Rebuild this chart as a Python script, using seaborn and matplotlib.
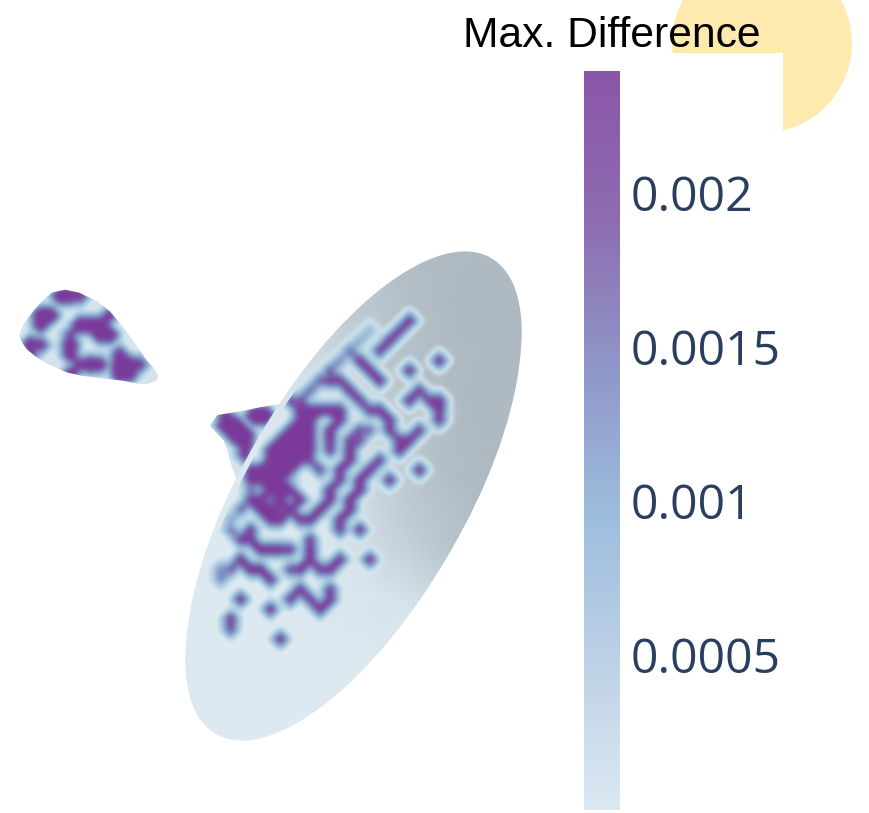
import numpy as np
import seaborn as sns
import matplotlib.pyplot as plt
from matplotlib.colors import ListedColormap
from matplotlib.patches import Circle, Ellipse, Polygon, Rectangle

scale_title = "Max. Difference"
scale_max = 0.0024
tick_values = [0.002, 0.0015, 0.001, 0.0005]
tick_labels = ["0.002", "0.0015", "0.001", "0.0005"]
scale_colors = ["#dbe8f2", "#bdd1e6", "#9dbcdd", "#8f96c8", "#8d6cb0", "#8a55a8"]
surface_colors = ["#e3eff6", "#c3dcea", "#9bbcd8", "#7b86bc", "#7a3a9a"]

# disk difference levels, 0-9 (rows top to bottom)
disk_levels = [
    "0000000000000000000000000",
    "0000000000000000000090000",
    "0000000000000000400800000",
    "0000000000000005009000000",
    "0000000000000050080000000",
    "0000000000000609000000090",
    "0000000000006000900090000",
    "0000000000069800090000000",
    "0000000000700090000008000",
    "0000000077000008000090890",
    "0000000009999900890000090",
    "0000000009900900009000080",
    "0000000099909008608008000",
    "0000000999909087000890000",
    "0000009999908090000900000",
    "0000009999700090080000000",
    "0000999990080900900009000",
    "0000999920000809009000000",
    "0000429990009009000000000",
    "0000995939009090000000000",
    "0005099790090090000000000",
    "0050009908900900000000000",
    "0050800000000809000000000",
    "0008900000800000000000000",
    "0000099980900000000000000",
    "0009000000900900900000000",
    "0660990079089000000000000",
    "0600009000000000000000000",
    "0000000009008000000000000",
    "0009000080809000000000000",
    "0000009000090000000000000",
    "0090000000000000000000000",
    "0070000000000000000000000",
    "0000000900000000000000000",
    "0000000000000000000000000",
]

# lighting of the disk, along the long axis (rows) and across it (columns)
disk_shade = [
    [0, 0, 0, 0, 0],
    [0, 0, 0, 0, 0],
    [0, 0, 0, 0, 0],
    [0, 0, 0, 1, 1],
    [0, 0, 2, 5, 7],
    [1, 3, 5, 8, 9],
    [4, 6, 8, 9, 9],
    [7, 8, 9, 9, 9],
    [9, 9, 9, 9, 9],
]

# teardrop outline and levels
drop_s = [6, 10, 14, 19, 30, 44, 65, 80, 100, 120, 133, 142, 150]
drop_upper = [-3, 14, 25, 36, 44, 47, 46, 42, 32, 20, 12, 8, 2]
drop_lower = [16, 20, 23, 26, 29, 31, 31, 28, 22, 16, 13, 10, 3]
drop_levels = [
    "000000000000000",
    "000099600000000",
    "000000000000000",
    "009900000600000",
    "007000999000000",
    "000004008900000",
    "096009000000000",
    "050007000070000",
    "000000697099600",
    "000008000098000",
    "000000000000000",
]

# flared throat behind the disk
flare_s = [0, 10, 20, 30, 42, 50, 60, 80]
flare_upper = [6, 16, 26, 37, 49, 55, 60, 60]
flare_lower = [7, 9, 11, 18, 28, 33, 40, 50]
flare_levels = [
    "000000000",
    "050099000",
    "089000000",
    "009900000",
    "000700000",
    "000600000",
    "000000000",
    "000000000",
]


def along_axis(start, end, s, upper, lower):
    # outline of a surface given its widths on each side of a straight axis
    start, end = np.array(start, float), np.array(end, float)
    u = (end - start) / np.linalg.norm(end - start)
    p = np.array([-u[1], u[0]])
    s = np.asarray(s, float)[:, None]
    top = start + s * u - np.asarray(upper, float)[:, None] * p
    low = start + s * u + np.asarray(lower, float)[:, None] * p
    return np.vstack([top, low[::-1]])


def ridge_field(table, xs, ys, x0, y0, step, reach=1.0, gain=1.0):
    # table nodes spread as soft diamonds, touching nodes merge into ridges
    levels = np.array([[int(ch) for ch in row] for row in table], dtype=float)
    px, py = np.meshgrid(xs, ys)
    field = np.zeros_like(px)
    nrow, ncol = levels.shape
    for r, c in zip(*np.nonzero(levels)):
        ax_, ay_ = x0 + step * c, y0 + step * r
        ends = [(r, c)]
        for dr, dc in [(0, 1), (1, 0), (1, 1), (1, -1)]:
            if 0 <= r + dr < nrow and 0 <= c + dc < ncol and levels[r + dr, c + dc] > 0:
                ends.append((r + dr, c + dc))
        for er, ec in ends:
            vx, vy = step * (ec - c), step * (er - r)
            seg = vx * vx + vy * vy
            t = 0.0 if seg == 0 else np.clip(((px - ax_) * vx + (py - ay_) * vy) / seg, 0, 1)
            dx, dy = np.abs(px - ax_ - t * vx), np.abs(py - ay_ - t * vy)
            dist = np.maximum(np.hypot(dx, dy) / (15 * reach), (dx + dy) / (18 * reach))
            peak = (levels[r, c] + levels[er, ec]) / 18
            field = np.maximum(field, peak * np.clip(1 - dist, 0, 1))
    field = np.clip(field * gain, 0, 1)
    box = np.ones(3) / 3
    for _ in range(2):
        field = np.apply_along_axis(lambda a: np.convolve(a, box, mode="same"), 0, field)
        field = np.apply_along_axis(lambda a: np.convolve(a, box, mode="same"), 1, field)
    return field


def draw_field(ax, field, xs, ys, cmap, clip, zorder):
    im = ax.imshow(field, cmap=cmap, vmin=0, vmax=1, aspect="auto",
                   extent=(xs[0], xs[-1], ys[-1], ys[0]), interpolation="bilinear", zorder=zorder)
    im.set_clip_path(clip)
    return im


sns.set_theme(style="white")

fig = plt.figure(figsize=(8.7, 8.13), dpi=100)
ax = fig.add_axes([0, 0, 1, 1])
ax.axis("off")

# the low end of the surface colours fades out so the lighting shows through
rgba = np.ones((256, 4))
rgba[:, :3] = np.array(sns.blend_palette(surface_colors, n_colors=256))
rgba[:, 3] = np.clip(np.linspace(0, 1, 256) / 0.2, 0, 1)
fading_cmap = ListedColormap(rgba)
shade_cmap = sns.blend_palette(["#dce9f1", "#aeb9c1"], as_cmap=True)

# sun and the white box behind the scale
ax.add_patch(Circle((762, 43), 90, fc="#fee9ae", ec="none", zorder=1))
ax.add_patch(Rectangle((0, 53), 783.5, 760, fc="white", ec="none", zorder=2))

# throat and teardrop
flare_edge = Polygon(along_axis((214, 420), (270, 460), flare_s, flare_upper, flare_lower),
                     fc="#d3e2ec", ec="none", zorder=3)
ax.add_patch(flare_edge)
xs = np.arange(200, 310, 2.0)
ys = np.arange(395, 495, 2.0)
draw_field(ax, ridge_field(flare_levels, xs, ys, 215, 405, 10, reach=1.2, gain=1.6),
           xs, ys, fading_cmap, flare_edge, 3)

drop_edge = Polygon(along_axis((20, 318), (157, 378), drop_s, drop_upper, drop_lower),
                    fc="#d3e2ec", ec="none", zorder=3)
ax.add_patch(drop_edge)
xs = np.arange(10, 170, 2.0)
ys = np.arange(275, 395, 2.0)
draw_field(ax, ridge_field(drop_levels, xs, ys, 20, 285, 10, reach=1.15, gain=1.45),
           xs, ys, fading_cmap, drop_edge, 3)

# lit disk
center = np.array([353.5, 496.0])
m_dir = np.array([np.cos(np.radians(60)), -np.sin(np.radians(60))])
n_dir = np.array([np.sin(np.radians(60)), np.cos(np.radians(60))])
shade = np.array(disk_shade, dtype=float)
mm, nn = np.meshgrid(np.linspace(-280, 280, shade.shape[0]),
                     np.linspace(-115, 115, shade.shape[1]), indexing="ij")
disk_edge = Ellipse(center, 550, 224, angle=-60, fc="none", ec="none", zorder=4)
ax.add_patch(disk_edge)
quad = ax.pcolormesh(center[0] + mm * m_dir[0] + nn * n_dir[0],
                     center[1] + mm * m_dir[1] + nn * n_dir[1],
                     shade, shading="gouraud", cmap=shade_cmap,
                     vmin=0, vmax=9, zorder=4)
quad.set_clip_path(disk_edge)

# difference marks on the disk
xs = np.arange(190, 470, 2.0)
ys = np.arange(290, 660, 2.0)
inner_edge = Ellipse(center + 6 * n_dir, 550, 224, angle=-60, fc="none", ec="none", zorder=5)
ax.add_patch(inner_edge)
draw_field(ax, ridge_field(disk_levels, xs, ys, 210, 310, 10, gain=1.15), xs, ys, fading_cmap, inner_edge, 5)

ax.set_xlim(0, 870)
ax.set_ylim(813, 0)

ax.text(463, 47, scale_title, family="Liberation Sans", fontsize=30.7,
        color="black", va="baseline", ha="left", zorder=7)

# colour scale strip
bar = fig.add_axes([584 / 870, 1 - 810 / 813, 36 / 870, 739 / 813])
steps = np.linspace(scale_max, 0, 256).reshape(-1, 1)
sns.heatmap(steps, ax=bar, cbar=False, vmin=0, vmax=scale_max,
            cmap=sns.blend_palette(scale_colors, as_cmap=True),
            xticklabels=False, yticklabels=False, rasterized=True)
bar.yaxis.tick_right()
bar.set_yticks([256 * (1 - v / scale_max) - 0.6 for v in tick_values])
bar.set_yticklabels(tick_labels, rotation=0, family="Open Sans", fontsize=34.6, color="#2a3f5f")
bar.tick_params(axis="y", length=0, pad=8)

fig.savefig("out.png", dpi=100)
